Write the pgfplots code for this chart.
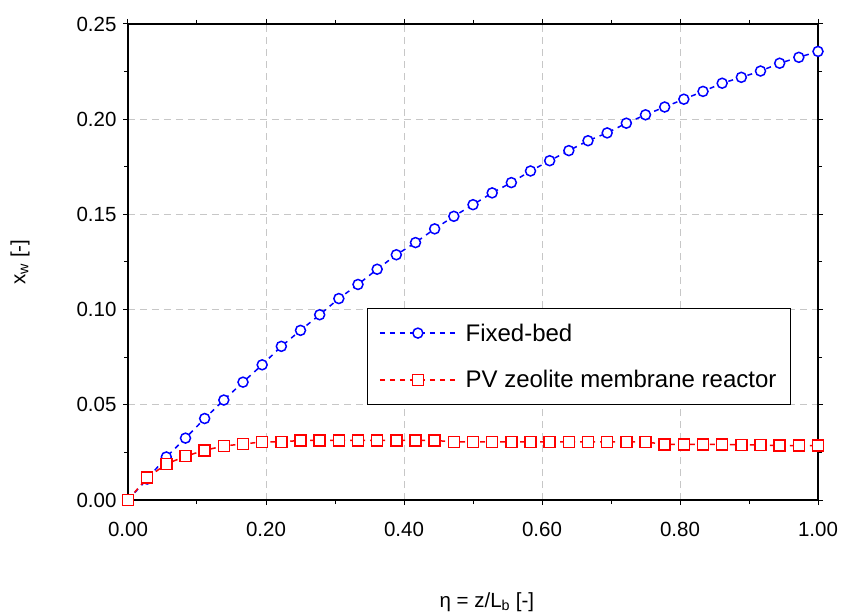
\documentclass[border=0pt]{standalone}
\usepackage{fontspec}
\setmainfont{Liberation Sans}
\usepackage{pgfplots}
\pgfplotsset{compat=1.18}
\begin{document}
\begin{tikzpicture}
\begin{axis}[
  scale only axis, width=690bp, height=476bp,
  xmin=0, xmax=1, ymin=0, ymax=0.25,
  xtick={0,0.2,0.4,0.6,0.8,1.0},
  ytick={0,0.05,0.10,0.15,0.20,0.25},
  minor xtick={0.1,0.3,0.5,0.7,0.9},
  minor ytick={0.025,0.075,0.125,0.175,0.225},
  tick align=outside, major tick length=5bp, minor tick length=4bp,
  tick style={black, line width=1bp},
  axis line style={line width=1.3bp},
  grid=major,
  major grid style={black!22, dash pattern=on 7bp off 5bp, line width=0.8bp},
  ticklabel style={font=\fontsize{20.5bp}{24bp}\selectfont},
  xticklabel style={yshift=-14bp},
  yticklabel style={xshift=-3bp},
  /pgf/number format/.cd, fixed, fixed zerofill, precision=2, assume math mode=true,
  /pgfplots/.cd,
  xlabel={η = z/L\textsubscript{b} [-]},
  ylabel={x\textsubscript{w} [-]},
  label style={font=\fontsize{20.5bp}{24bp}\selectfont},
  x label style={at={(axis description cs:0.52,0)}, anchor=center, yshift=-102bp},
  y label style={at={(axis description cs:0,0.5)}, anchor=center, yshift=108bp},
  legend style={at={(axis description cs:0.346,0.2)}, anchor=south west,
    draw=black, line width=0.8bp, fill=white,
    font=\fontsize{24bp}{28bp}\selectfont,
    inner xsep=12bp, inner ysep=13bp, row sep=24bp,
    /tikz/every odd column/.append style={column sep=6bp}},
  legend cell align=left,
  legend image code/.code={\draw[mark repeat=2,mark phase=2] plot coordinates {(0bp,0bp) (38bp,0bp) (77bp,0bp)};},
]
\coordinate (bl) at (rel axis cs:0,0);
\coordinate (tr) at (rel axis cs:1,1);
\addplot[color=blue, line width=1.5bp, dash pattern=on 5bp off 5bp, mark=*, mark size=5bp,
  mark options={solid, line width=1.5bp, draw=blue, fill=white}] coordinates {
(0.00000,0.0000) (0.02778,0.0110) (0.05556,0.0226) (0.08333,0.0325) (0.11111,0.0428)
(0.13889,0.0525) (0.16667,0.0619) (0.19444,0.0710) (0.22222,0.0807) (0.25000,0.0891)
(0.27778,0.0973) (0.30556,0.1058) (0.33333,0.1132) (0.36111,0.1212) (0.38889,0.1288)
(0.41667,0.1352) (0.44444,0.1424) (0.47222,0.1490) (0.50000,0.1551) (0.52778,0.1613)
(0.55556,0.1667) (0.58333,0.1728) (0.61111,0.1782) (0.63889,0.1835) (0.66667,0.1887)
(0.69444,0.1928) (0.72222,0.1979) (0.75000,0.2023) (0.77778,0.2064) (0.80556,0.2105)
(0.83333,0.2146) (0.86111,0.2189) (0.88889,0.2220) (0.91667,0.2253) (0.94444,0.2294)
(0.97222,0.2325) (1.00000,0.2356)
};
\addlegendentry{Fixed-bed}
\addplot[color=red, line width=1.5bp, dash pattern=on 5bp off 5bp, mark=square*, mark size=5.5bp,
  mark options={solid, line width=1.5bp, draw=red, fill=white}] coordinates {
(0.00000,0.0000) (0.02778,0.0117) (0.05556,0.0189) (0.08333,0.0230) (0.11111,0.0261)
(0.13889,0.0284) (0.16667,0.0294) (0.19444,0.0305) (0.22222,0.0305) (0.25000,0.0313)
(0.27778,0.0313) (0.30556,0.0313) (0.33333,0.0313) (0.36111,0.0313) (0.38889,0.0313)
(0.41667,0.0313) (0.44444,0.0313) (0.47222,0.0305) (0.50000,0.0305) (0.52778,0.0305)
(0.55556,0.0305) (0.58333,0.0305) (0.61111,0.0305) (0.63889,0.0305) (0.66667,0.0305)
(0.69444,0.0305) (0.72222,0.0305) (0.75000,0.0305) (0.77778,0.0292) (0.80556,0.0292)
(0.83333,0.0292) (0.86111,0.0292) (0.88889,0.0290) (0.91667,0.0290) (0.94444,0.0285)
(0.97222,0.0285) (1.00000,0.0285)
};
\addlegendentry{PV zeolite membrane reactor}
\end{axis}
\pgfresetboundingbox
\path ([shift={(-128bp,-114bp)}]bl) rectangle ([shift={(27bp,24bp)}]tr);
\end{tikzpicture}
\end{document}
